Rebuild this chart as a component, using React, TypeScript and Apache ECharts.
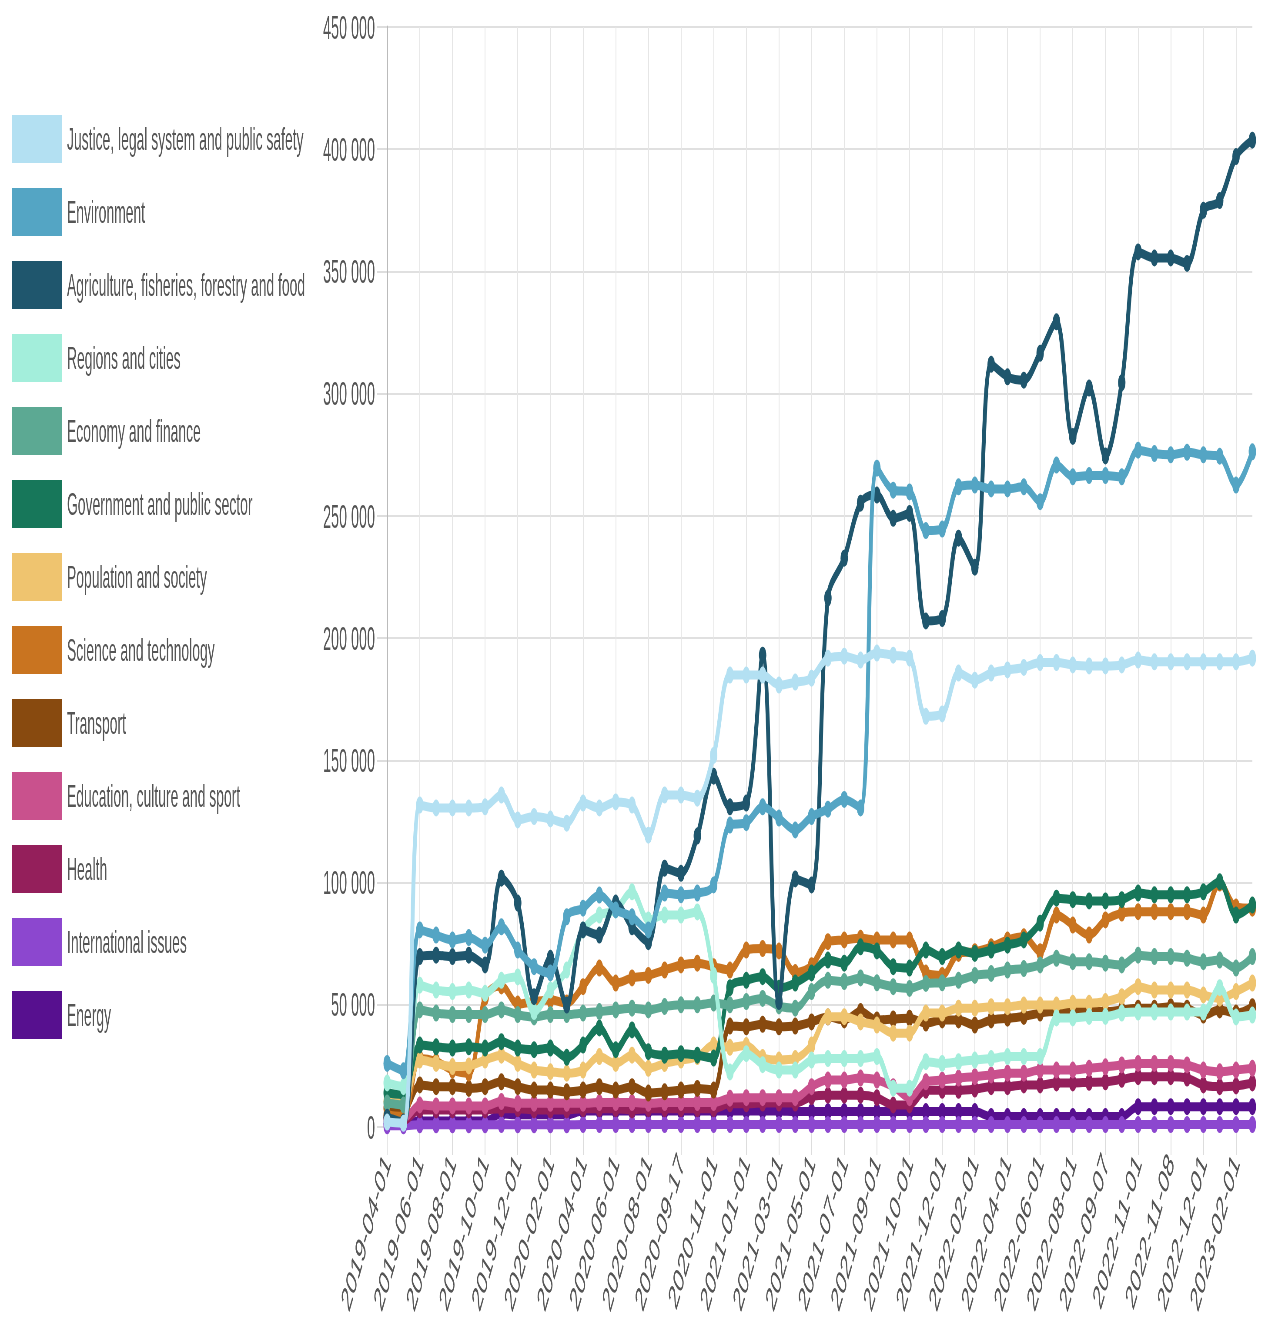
import React, { useEffect, useRef } from "react";
import * as echarts from "echarts";

const SCALE_X = 0.435;
const FULL_W = 1264;
const FULL_H = 1325;
const INNER_W = Math.round(FULL_W / SCALE_X);

const CATEGORIES = [
  "2019-04-01", "2019-05-01", "2019-06-01", "2019-07-01", "2019-08-01", "2019-09-01", "2019-10-01", "2019-11-01", "2019-12-01", "2020-01-01",
  "2020-02-01", "2020-03-01", "2020-04-01", "2020-05-01", "2020-06-01", "2020-07-01", "2020-08-01", "2020-09-01", "2020-09-17", "2020-10-01",
  "2020-11-01", "2020-12-01", "2021-01-01", "2021-02-01", "2021-03-01", "2021-04-01", "2021-05-01", "2021-06-01", "2021-07-01", "2021-08-01",
  "2021-09-01", "2021-09-15", "2021-10-01", "2021-11-01", "2021-12-01", "2022-01-01", "2022-02-01", "2022-03-01", "2022-04-01", "2022-05-01",
  "2022-06-01", "2022-07-01", "2022-08-01", "2022-09-01", "2022-09-07", "2022-10-01", "2022-11-01", "2022-11-07", "2022-11-08", "2022-11-15",
  "2022-12-01", "2023-01-01", "2023-02-01", "2023-03-01",
];

const JUSTICE = [2000, 1500, 131700, 130500, 130500, 130500, 131000, 135800, 125600, 127000,
  126000, 124300, 132500, 130500, 133000, 131700, 119400, 135800, 135800, 134500,
  152000, 184900, 184900, 184900, 180800, 182000, 183600, 191800, 192600, 191000,
  193900, 193000, 191800, 168000, 169000, 185700, 182800, 185700, 187000, 188000,
  190000, 190000, 189000, 188600, 188600, 189000, 191000, 190300, 190300, 190300,
  190300, 190300, 190300, 191800];

const ENVIRONMENT = [26000, 23000, 80600, 78500, 76500, 77500, 74400, 81900, 72400, 65600,
  63000, 86000, 89500, 94900, 88800, 86000, 80600, 95700, 95000, 95700,
  99000, 123500, 124500, 131000, 126400, 121500, 127000, 130000, 134000, 130500,
  269500, 260500, 259800, 244000, 244600, 261900, 262600, 261000, 261000, 261900,
  255800, 270800, 266000, 266500, 266500, 266000, 276900, 275500, 275000, 276000,
  275000, 274400, 262600, 276200];

const AGRICULTURE = [4000, 2000, 69700, 70300, 69700, 70300, 66300, 101800, 91600, 53300,
  69000, 49900, 80600, 78500, 91600, 81900, 75800, 105900, 103800, 119000,
  143500, 131000, 132500, 193000, 51300, 101500, 99000, 216400, 232700, 255200,
  258500, 249000, 251000, 207000, 208000, 240900, 229000, 312000, 306900, 305500,
  316500, 329400, 282500, 302300, 274500, 304500, 358000, 355500, 355500, 353300,
  375000, 379000, 397000, 403700];

const REGIONS = [18000, 16500, 58000, 56000, 55400, 56000, 54700, 60000, 61400, 47200,
  56000, 64200, 80600, 86700, 88800, 96200, 84700, 86700, 86700, 88000,
  62000, 22500, 30000, 25500, 23300, 23300, 27400, 28000, 28000, 28000,
  28800, 15900, 15900, 26700, 26000, 26700, 27400, 28000, 28800, 28800,
  28800, 44600, 44600, 45200, 45200, 46600, 47000, 47000, 47000, 47000,
  47000, 57000, 45000, 45800];

const ECONOMY = [9800, 9000, 47900, 46600, 46000, 46000, 46000, 47900, 46000, 45000,
  46000, 46000, 46600, 47200, 47900, 48600, 47900, 49300, 50000, 50000,
  50700, 50000, 51300, 52600, 49500, 48600, 55400, 60000, 59500, 61000,
  59000, 57400, 56700, 58700, 59000, 60000, 62000, 62800, 64200, 64800,
  66300, 69000, 67600, 67600, 67000, 66300, 70300, 69700, 69700, 69000,
  67600, 68300, 65000, 69700];

const GOVERNMENT = [13900, 13300, 33500, 32800, 32300, 32800, 32300, 34900, 32300, 31600,
  32300, 28500, 33500, 40500, 31600, 39700, 30800, 29400, 30000, 29400,
  28200, 57000, 60000, 61500, 56800, 58900, 63000, 68300, 67000, 73700,
  72000, 65600, 65000, 72400, 69700, 72400, 71000, 72400, 74400, 76500,
  83400, 93600, 93000, 92500, 92500, 93000, 95700, 95000, 95000, 95000,
  96200, 100300, 86700, 90800];

const POPULATION = [10500, 10000, 27400, 26000, 24700, 25000, 27400, 29400, 26000, 23300,
  22600, 22000, 23300, 28800, 26000, 29400, 24000, 26000, 27400, 28800,
  33500, 32600, 33300, 28400, 27400, 28000, 33500, 45100, 45100, 43000,
  41700, 38400, 38400, 46600, 46600, 48600, 48600, 49200, 49200, 49900,
  49900, 49900, 50600, 50600, 51300, 53300, 57400, 56000, 56000, 56000,
  54000, 52700, 55400, 58900];

const SCIENCE = [4900, 4300, 28000, 26800, 23300, 22000, 53000, 57700, 50300, 51300,
  52000, 50700, 57400, 65000, 58900, 61000, 62000, 64200, 66300, 67000,
  65600, 64200, 72400, 73000, 72000, 63200, 66000, 75800, 76500, 77200,
  76500, 76500, 76500, 63000, 62000, 71000, 71700, 73700, 76500, 77800,
  71700, 86700, 82600, 78500, 84700, 87500, 88100, 88100, 88100, 88100,
  86700, 99800, 90000, 89500];

const TRANSPORT = [7800, 7000, 17200, 16500, 16500, 15800, 16500, 18500, 16500, 15100,
  15100, 14400, 15100, 16500, 15100, 16500, 13900, 14400, 15100, 15800,
  15100, 41300, 41000, 42000, 41000, 41300, 43000, 45000, 43800, 47200,
  43800, 44200, 44500, 42500, 43800, 43800, 41700, 43800, 44500, 45200,
  46600, 47200, 47200, 47200, 47200, 47900, 48600, 48600, 49200, 48600,
  45800, 47900, 46600, 49200];

const EDUCATION = [4000, 3500, 9000, 8600, 8600, 8600, 8600, 10400, 9700, 9700,
  9700, 9700, 9700, 10000, 10000, 10000, 9700, 10000, 10000, 10000,
  10000, 11800, 12000, 12000, 12000, 12000, 16500, 19200, 19200, 20000,
  19200, 16500, 12000, 18500, 19200, 20000, 20600, 21300, 22000, 22000,
  23300, 23300, 23300, 24000, 24600, 25400, 26000, 26000, 26000, 25400,
  23300, 22600, 23300, 24000];

const HEALTH = [3000, 2500, 7000, 7000, 7000, 7000, 7000, 7500, 7500, 7000,
  7000, 7000, 7500, 7500, 7500, 7000, 7500, 7500, 7500, 7500,
  7500, 9500, 9500, 9800, 9800, 9800, 12400, 13000, 13000, 13000,
  12000, 9000, 9000, 15000, 15000, 15000, 15500, 16500, 16500, 17200,
  17200, 18000, 18000, 18300, 18500, 19500, 20600, 20600, 20600, 20000,
  17200, 16500, 16800, 18000];

const INTERNATIONAL = [500, 500, 900, 900, 900, 900, 900, 1000, 900, 900,
  900, 900, 1000, 1000, 1000, 1000, 1000, 1000, 1000, 1000,
  1000, 1000, 1000, 1000, 1000, 1000, 1000, 1000, 1000, 1000,
  1000, 1000, 1000, 1000, 1000, 1000, 1000, 1000, 1000, 1000,
  1000, 1000, 1000, 1000, 1000, 1000, 1000, 1000, 1000, 1000,
  1000, 1000, 1000, 1000];

const ENERGY = [1500, 1500, 2500, 2500, 2500, 2500, 2500, 5300, 5000, 5000,
  5000, 5000, 6500, 6500, 6500, 6500, 6500, 6500, 6500, 6500,
  6500, 6500, 6500, 6500, 6500, 6300, 6300, 6300, 6300, 6300,
  6300, 6300, 6300, 6300, 6300, 6300, 6300, 4300, 4300, 4300,
  4300, 4300, 4300, 4300, 4300, 4300, 8300, 8300, 8300, 8300,
  8300, 8300, 8300, 8300];

const SERIES_NAMES = [
  "Justice, legal system and public safety",
  "Environment",
  "Agriculture, fisheries, forestry and food",
  "Regions and cities",
  "Economy and finance",
  "Government and public sector",
  "Population and society",
  "Science and technology",
  "Transport",
  "Education, culture and sport",
  "Health",
  "International issues",
  "Energy",
];

const SERIES_COLORS = [
  "#b3e0f2", "#54a5c4", "#1f566d", "#a3eedb", "#5ca993", "#17775a", "#efc46f",
  "#c97420", "#884a0f", "#c9518d", "#941f5b", "#8c47cf", "#57108f",
];

const SERIES_DATA = [
  JUSTICE, ENVIRONMENT, AGRICULTURE, REGIONS, ECONOMY, GOVERNMENT, POPULATION,
  SCIENCE, TRANSPORT, EDUCATION, HEALTH, INTERNATIONAL, ENERGY,
];

const FONT = "'Liberation Sans', Arial, Helvetica, sans-serif";
const TEXT_COLOR = "#555555";

function fmt(v: number): string {
  if (v === 0) return "0";
  const th = Math.floor(v / 1000);
  const rest = String(v % 1000).padStart(3, "0");
  return `${th} ${rest}`;
}

export default function App() {
  const ref = useRef<HTMLDivElement>(null);
  useEffect(() => {
    if (!ref.current) return;
    const chart = echarts.init(ref.current, null, { renderer: "svg" });
    const series = SERIES_NAMES.map((name, i) => ({
      name,
      type: "line",
      data: SERIES_DATA[i],
      color: SERIES_COLORS[i],
      smooth: 0.35,
      symbol: "circle",
      symbolSize: 17,
      showSymbol: true,
      showAllSymbol: true,
      z: 2 + (SERIES_NAMES.length - i),
      lineStyle: { width: 9, color: SERIES_COLORS[i] },
      itemStyle: { color: SERIES_COLORS[i] },
      emphasis: { disabled: true },
    }));
    chart.setOption({
      animation: false,
      backgroundColor: "#ffffff",
      textStyle: { fontFamily: FONT },
      legend: {
        orient: "vertical",
        left: 23,
        top: 110,
        itemWidth: 115,
        itemHeight: 48,
        itemGap: 25,
        icon: "rect",
        data: SERIES_NAMES,
        selectedMode: false,
        textStyle: { fontSize: 32, color: TEXT_COLOR, fontFamily: FONT, padding: [0, 0, 0, 6] },
      },
      grid: { left: 890, right: 27, top: 27, bottom: 198, containLabel: false },
      xAxis: {
        type: "category",
        data: CATEGORIES,
        boundaryGap: false,
        axisLine: { show: true, lineStyle: { color: "#cccccc", width: 2 } },
        axisTick: { show: true, interval: 1, length: 28, lineStyle: { color: "#dddddd", width: 2 } },
        axisLabel: { interval: 1, rotate: 57, margin: 30, fontSize: 35, color: TEXT_COLOR, fontFamily: FONT },
        splitLine: { show: true, interval: 1, lineStyle: { color: "#e6e6e6", width: 2 } },
      },
      yAxis: {
        type: "value",
        min: 0,
        max: 450000,
        interval: 50000,
        axisLine: { show: true, lineStyle: { color: "#bbbbbb", width: 3 } },
        axisTick: { show: true, length: 23, lineStyle: { color: "#dddddd", width: 2 } },
        axisLabel: { margin: 28, fontSize: 33, color: TEXT_COLOR, fontFamily: FONT, formatter: fmt },
        splitLine: { show: true, lineStyle: { color: "#e0e0e0", width: 2 } },
      },
      series,
    });
    return () => chart.dispose();
  }, []);
  return (
    <div
      style={{
        position: "fixed",
        left: 0,
        top: 0,
        width: FULL_W,
        height: FULL_H,
        overflow: "hidden",
        background: "#ffffff",
      }}
    >
      <div
        ref={ref}
        style={{
          width: INNER_W,
          height: FULL_H,
          transform: `scaleX(${SCALE_X})`,
          transformOrigin: "0 0",
          willChange: "transform",
        }}
      />
    </div>
  );
}
